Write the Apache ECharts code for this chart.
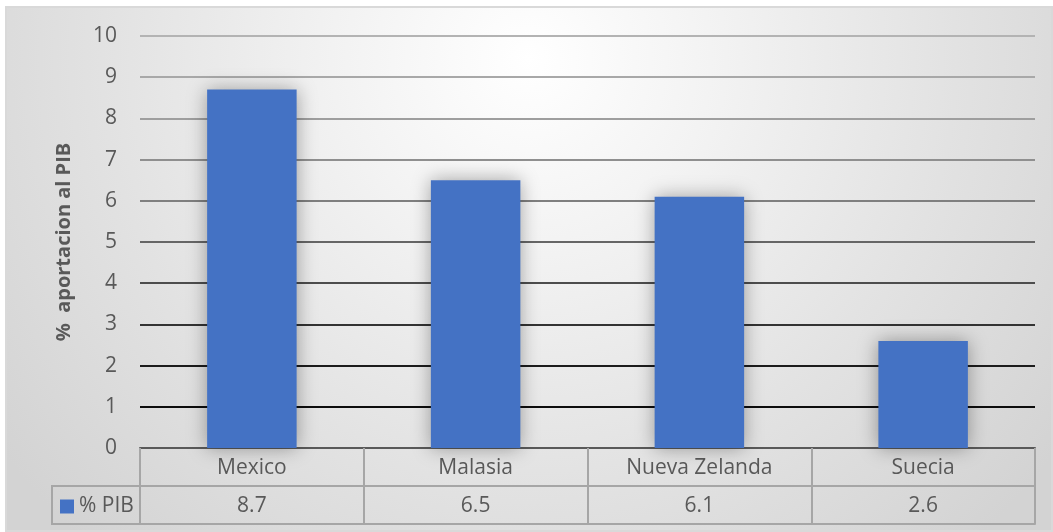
<!DOCTYPE html>
<html>
<head>
<meta charset="utf-8">
<script src="https://cdn.jsdelivr.net/npm/echarts@6/dist/echarts.min.js"></script>
<style>html,body{margin:0;padding:0;background:#fff}#c{width:1053px;height:532px}</style>
</head>
<body>
<div id="c"></div>
<script>
const categories = ['Mexico', 'Malasia', 'Nueva Zelanda', 'Suecia'];
const seriesName = '% PIB';
const values = [8.7, 6.5, 6.1, 2.6];
const yTicks = { min: 0, max: 10, interval: 1 };
const yTitle = '%  aportacion al PIB';

const FONT = '"Open Sans", "Liberation Sans", sans-serif';
const TXT = '#595959';
const gridColors = ['#000000', '#0d0d0d', '#1c1c1c', '#333333', '#4d4d4d', '#666666', '#7f7f7f', '#8f8f8f', '#9e9e9e', '#a8a8a8', '#b3b3b3'];

const chart = echarts.init(document.getElementById('c'));
chart.setOption({
  animation: false,
  backgroundColor: '#ffffff',
  textStyle: { fontFamily: FONT },
  graphic: { elements: [
    { type: 'rect', zlevel: -1, z: -10, silent: true,
      shape: { x: 6, y: 7, width: 1046, height: 524 },
      style: { stroke: '#d9d9d9', lineWidth: 2,
        fill: { type: 'radial', x: 0.5, y: 0.1, r: 1.25,
          colorStops: [{ offset: 0, color: '#ffffff' }, { offset: 0.3, color: '#f2f2f2' }, { offset: 0.65, color: '#e2e2e2' }, { offset: 1, color: '#d3d3d3' }] } } },
    { type: 'rect', z: 5, silent: true,
      shape: { x: 52, y: 486, width: 88, height: 38 },
      style: { fill: null, stroke: '#a6a6a6', lineWidth: 2 } }
  ] },
  grid: { left: 140, right: 18, top: 36, bottom: 84, containLabel: false },
  legend: {
    data: [seriesName], left: 55, top: 491, icon: 'rect', itemWidth: 14, itemHeight: 14, itemGap: 6,
    textStyle: { fontSize: 21, color: TXT, fontFamily: FONT }
  },
  xAxis: [
    { type: 'category', data: categories, position: 'bottom', offset: 0,
      axisLine: { lineStyle: { color: '#595959', width: 2 } },
      axisTick: { show: true, length: 38, interval: 0, lineStyle: { color: '#a6a6a6', width: 2 } },
      axisLabel: { margin: 10, fontSize: 21, color: TXT, interval: 0 } },
    { type: 'category', data: values.map(v => v.toFixed(1)), position: 'bottom', offset: 38,
      axisLine: { lineStyle: { color: '#a6a6a6', width: 2 } },
      axisTick: { show: true, length: 38, interval: 0, lineStyle: { color: '#a6a6a6', width: 2 } },
      axisLabel: { margin: 10, fontSize: 21, color: TXT, interval: 0 } },
    { type: 'category', data: categories, position: 'bottom', offset: 76,
      axisLine: { lineStyle: { color: '#a6a6a6', width: 2 } },
      axisTick: { show: false }, axisLabel: { show: false } }
  ],
  yAxis: {
    type: 'value', min: yTicks.min, max: yTicks.max, interval: yTicks.interval,
    name: yTitle, nameLocation: 'middle', nameRotate: 90, nameGap: 66,
    nameTextStyle: { fontSize: 20, fontWeight: 'bold', color: TXT, fontFamily: FONT },
    axisLine: { show: false }, axisTick: { show: false },
    axisLabel: { margin: 23, fontSize: 21, color: TXT },
    splitLine: { show: true, lineStyle: { color: gridColors, width: 2 } }
  },
  series: [{
    name: seriesName, type: 'bar', xAxisIndex: 0, data: values, barWidth: '40%',
    itemStyle: { color: '#4472c4', shadowBlur: 18, shadowColor: 'rgba(0,0,0,0.35)' }
  }]
});
</script>
</body>
</html>
